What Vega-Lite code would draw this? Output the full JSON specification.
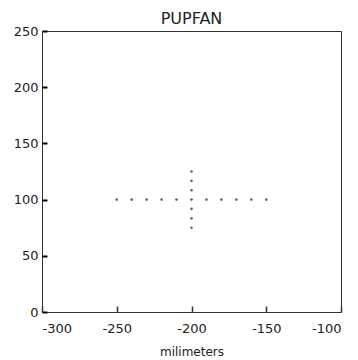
{
  "$schema": "https://vega.github.io/schema/vega-lite/v6.json",
  "width": 299,
  "height": 281,
  "autosize": {"type": "none"},
  "padding": {"left": 42, "top": 31, "right": 17, "bottom": 48},
  "background": "white",
  "title": {"text": "PUPFAN", "font": "DejaVu Sans", "fontSize": 16, "fontWeight": "normal", "color": "#222", "offset": -2},
  "config": {
    "view": {"stroke": "#333", "strokeWidth": 1},
    "axis": {
      "grid": false,
      "domain": false,
      "labelFont": "DejaVu Sans",
      "labelFontSize": 13,
      "labelColor": "#222",
      "titleFont": "DejaVu Sans",
      "titleFontSize": 12,
      "titleFontWeight": "normal",
      "titleColor": "#222"
    }
  },
  "data": {"values": [
    {"x": -250, "y": 100}, {"x": -240, "y": 100}, {"x": -230, "y": 100}, {"x": -220, "y": 100},
    {"x": -210, "y": 100}, {"x": -200, "y": 100}, {"x": -190, "y": 100}, {"x": -180, "y": 100},
    {"x": -170, "y": 100}, {"x": -160, "y": 100}, {"x": -150, "y": 100},
    {"x": -200, "y": 75}, {"x": -200, "y": 83.3}, {"x": -200, "y": 91.7},
    {"x": -200, "y": 108.3}, {"x": -200, "y": 116.7}, {"x": -200, "y": 125}
  ]},
  "layer": [
    {
      "mark": {"type": "point", "filled": true, "shape": "circle", "size": 7, "color": "#666", "opacity": 1},
      "encoding": {
        "x": {"field": "x", "type": "quantitative", "scale": {"domain": [-300, -100], "nice": false, "zero": false},
          "axis": {"values": [-300, -250, -200, -150, -100], "labelExpr": "datum.value + ''", "title": "milimeters", "ticks": true, "tickSize": -6, "tickColor": "#333", "tickWidth": 1.5, "labelPadding": 16, "titlePadding": 11}},
        "y": {"field": "y", "type": "quantitative", "scale": {"domain": [0, 250], "nice": false, "zero": false},
          "axis": {"values": [0, 50, 100, 150, 200, 250], "labelExpr": "datum.value + ''", "title": null, "ticks": true, "tickSize": -5, "tickColor": "black", "tickWidth": 2, "labelPadding": 9}}
      }
    }
  ]
}
